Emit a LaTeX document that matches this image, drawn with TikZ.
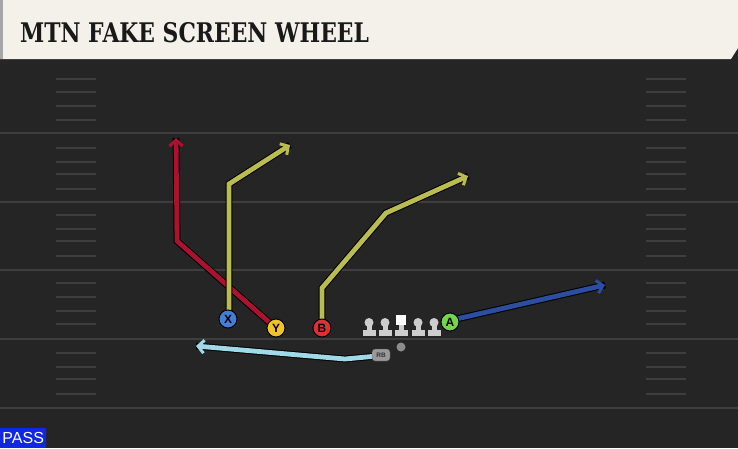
\documentclass[tikz,border=0pt]{standalone}
\usepackage{fontspec}
\usetikzlibrary{arrows.meta}
\usetikzlibrary{calc}
\usepackage{xcolor}
\newfontfamily\titlefont{DejaVu Serif}
\newfontfamily\labelfont{Liberation Sans}
\definecolor{turf}{RGB}{37,37,37}
\definecolor{paper}{RGB}{244,241,234}
\definecolor{yardline}{RGB}{62,62,62}
\definecolor{routered}{RGB}{170,18,48}
\definecolor{routeolive}{RGB}{186,188,80}
\definecolor{routeblue}{RGB}{44,78,160}
\definecolor{routecyan}{RGB}{160,218,232}
\definecolor{xblue}{RGB}{66,128,215}
\definecolor{yyellow}{RGB}{240,196,40}
\definecolor{bred}{RGB}{222,48,52}
\definecolor{agreen}{RGB}{118,212,72}
\definecolor{passblue}{RGB}{16,40,230}
\definecolor{lineman}{RGB}{205,205,205}

\tikzset{
  player/.style={circle,draw=black,line width=1pt,minimum size=18pt,inner sep=0pt,
    font=\labelfont\bfseries\fontsize{12}{12}\selectfont,text=black},
  route/.style={line width=4.8pt,line join=miter,
    -{Straight Barb[length=6pt,width=13pt,line width=3pt]},
    preaction={draw=black,line width=6.8pt,-}},
  hashmark/.style={yardline,line width=2pt},
  rbbox/.style={rounded corners=3pt,fill=black!40,draw=black!70,minimum width=18pt,minimum height=12pt,
    inner sep=0pt,font=\labelfont\bfseries\fontsize{6.5}{6.5}\selectfont,text=black!80},
}

\begin{document}
\begin{tikzpicture}[x=1pt,y=-1pt]
  \useasboundingbox (0,0) rectangle (738,448);
  \fill[turf] (0,0) rectangle (738,448);

  % yard lines and hashes
  \foreach \yy in {133,202,270,339,408}
    \draw[yardline,line width=2.4pt] (0,\yy) -- (738,\yy);
  \foreach \yy in {79,92,106,120,148,162,174,189,215,229,241,256,283,297,311,324,353,367,379,394}{
    \draw[hashmark] (56,\yy) -- (96,\yy);
    \draw[hashmark] (646,\yy) -- (686,\yy);
  }

  % title bar
  \fill[black!85] (0,56) rectangle (738,64);
  \fill[paper] (0,0) -- (738,0) -- (738,48) -- (731,59) -- (0,59) -- cycle;
  \fill[black!35] (0,0) rectangle (3,59);
  \node(title) at (20,33)[anchor=west,inner sep=0pt,font=\titlefont\bfseries\fontsize{27}{27}\selectfont,text=black!90,xscale=0.81]{MTN FAKE SCREEN WHEEL};

  % linemen
  \foreach \lx/\nm in {369/lt,385/lg,418/rg,434/rt}{
    \fill[lineman] (\lx-6.5,330) rectangle (\lx+6.5,336);
    \fill[lineman] (\lx-2.5,323) rectangle (\lx+2.5,331);
    \node(\nm) at (\lx,322.5)[circle,fill=lineman,minimum size=9pt,inner sep=0pt]{};
  }
  \fill[lineman] (394.5,330) rectangle (407.5,336);
  \fill[lineman] (398.5,322) rectangle (403.5,331);
  \node(c) at (401,319.5)[rectangle,fill=white,minimum size=10pt,inner sep=0pt]{};

  % backs and receivers
  \node(qb) at (401,347)[circle,fill=black!45,minimum size=9pt,inner sep=0pt]{};
  \coordinate(xbreak) at (229,184);
  \coordinate(xend) at (290,145);
  \coordinate(ybreak) at (177,241);
  \coordinate(yend) at (176,138);
  \coordinate(bbreak1) at (322,288);
  \coordinate(bbreak2) at (386,213);
  \coordinate(bend) at (468,176);
  \coordinate(aend) at (605,285);
  \coordinate(rbbreak) at (345,359);
  \coordinate(rbend) at (196,346);
  \coordinate(ystart) at (270,323);
  \coordinate(xstart) at (229,315);
  \coordinate(bstart) at (322,325);
  \coordinate(astart) at (452,320);
  \coordinate(rbstart) at (377,356);

  % routes
  \draw[route,routered] (ystart) -- (ybreak) -- (yend);
  \draw[route,routeolive] (xstart) -- (xbreak) -- (xend);
  \draw[route,routeolive] (bstart) -- (bbreak1) -- (bbreak2) -- (bend);
  \draw[route,routeblue] (astart) -- (aend);
  \draw[route,routecyan] (rbstart) -- (rbbreak) -- (rbend);

  \node(x) at (228,319)[player,fill=xblue]{X};
  \node(y) at (276,328)[player,fill=yyellow]{Y};
  \node(b) at (322,328)[player,fill=bred]{B};
  \node(a) at (450,322)[player,fill=agreen]{A};
  \node(rb) at (381,355)[rbbox]{RB};

  % play type
  \node(pass) at (0,448)[anchor=south west,fill=passblue,text=white,minimum width=46pt,minimum height=20pt,inner sep=0pt,font=\labelfont\fontsize{16}{16}\selectfont]{PASS};
\end{tikzpicture}
\end{document}
